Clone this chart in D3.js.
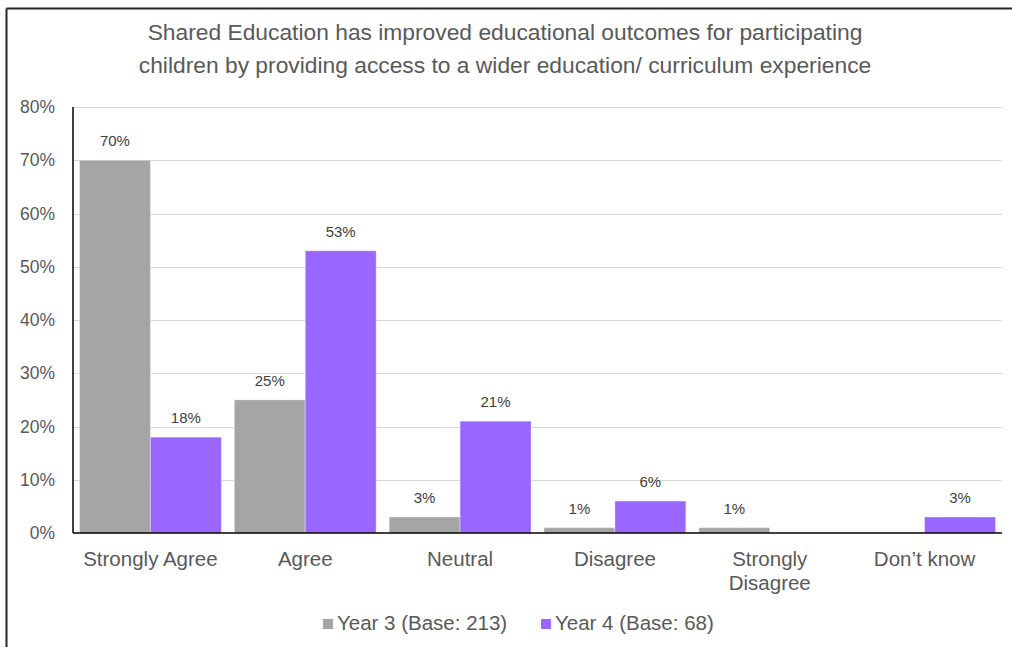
<!DOCTYPE html>
<html>
<head>
<meta charset="utf-8">
<script src="https://cdn.jsdelivr.net/npm/d3@7"></script>
<style>
  html, body { margin: 0; padding: 0; background: #fff; }
  svg { display: block; }
  text { font-family: "Liberation Sans", Arial, sans-serif; }
</style>
</head>
<body>
<svg id="chart" width="1012" height="647"></svg>
<script>
// Survey responses, share of respondents per answer
const categories = ["Strongly Agree", "Agree", "Neutral", "Disagree", "Strongly Disagree", "Don’t know"];
const year3 = [0.70, 0.25, 0.03, 0.01, 0.01, null];
const year4 = [0.18, 0.53, 0.21, 0.06, null, 0.03];
const seriesNames = ["Year 3 (Base: 213)", "Year 4 (Base: 68)"];
const seriesColors = ["#A5A5A5", "#9966FF"];
const yTicks = [0, 0.1, 0.2, 0.3, 0.4, 0.5, 0.6, 0.7, 0.8];
const titleLines = [
  "Shared Education has improved educational outcomes for participating",
  "children by providing access to a wider education/ curriculum experience"
];

const svg = d3.select("#chart");
const W = 1012, H = 647;
const plot = { left: 73, right: 1002, top: 107, bottom: 533 };

// outer frame (top and left edges visible)
svg.append("line").attr("x1", 6.5).attr("x2", W).attr("y1", 8.5).attr("y2", 8.5)
  .attr("stroke", "#262626").attr("stroke-width", 2);
svg.append("line").attr("x1", 6.5).attr("x2", 6.5).attr("y1", 8.5).attr("y2", H)
  .attr("stroke", "#262626").attr("stroke-width", 2);

// title
svg.append("g").selectAll("text").data(titleLines).join("text")
  .attr("x", 505).attr("y", (d, i) => 40 + i * 33)
  .attr("text-anchor", "middle")
  .attr("font-size", 22.8).attr("fill", "#595959")
  .text(d => d);

const x = d3.scaleBand().domain(categories).range([plot.left, plot.right]).padding(0);
const y = d3.scaleLinear().domain([0, 0.8]).range([plot.bottom, plot.top]);
const groupGap = 13;
const barW = (x.bandwidth() - groupGap) / 2;

// gridlines
svg.append("g").selectAll("line").data(yTicks.filter(t => t > 0)).join("line")
  .attr("x1", plot.left).attr("x2", plot.right)
  .attr("y1", d => Math.round(y(d)) + 0.5).attr("y2", d => Math.round(y(d)) + 0.5)
  .attr("stroke", "#D9D9D9").attr("stroke-width", 1.2);

// y axis labels
const yAxis = d3.axisLeft(y).tickValues(yTicks).tickFormat(d3.format(".0%")).tickSize(0).tickPadding(18);
const yg = svg.append("g").attr("transform", `translate(${plot.left},0)`).call(yAxis);
yg.select(".domain").remove();
yg.selectAll("text").attr("font-size", 17.5).attr("fill", "#595959")
  .attr("font-family", "'Liberation Sans', Arial, sans-serif");

// bars
const series = [year3, year4];
series.forEach((vals, si) => {
  const g = svg.append("g");
  const rows = categories.map((c, i) => ({ c, v: vals[i] })).filter(d => d.v != null);
  g.selectAll("rect").data(rows).join("rect")
    .attr("x", d => x(d.c) + groupGap / 2 + si * barW)
    .attr("y", d => y(d.v))
    .attr("width", barW)
    .attr("height", d => plot.bottom - y(d.v))
    .attr("fill", seriesColors[si])
    .attr("stroke", "#ffffff").attr("stroke-opacity", 0.35).attr("stroke-width", 1);
  g.selectAll("text").data(rows).join("text")
    .attr("x", d => x(d.c) + groupGap / 2 + si * barW + barW / 2)
    .attr("y", d => y(d.v) - 14)
    .attr("text-anchor", "middle")
    .attr("font-size", 15).attr("fill", "#404040")
    .text(d => d3.format(".0%")(d.v));
});

// axis lines
svg.append("line").attr("x1", plot.left).attr("x2", plot.right)
  .attr("y1", plot.bottom).attr("y2", plot.bottom)
  .attr("stroke", "#000").attr("stroke-width", 1.5);
svg.append("line").attr("x1", plot.left).attr("x2", plot.left)
  .attr("y1", plot.top).attr("y2", plot.bottom)
  .attr("stroke", "#000").attr("stroke-width", 1.5);

// category labels (wrap two-word labels that do not fit)
const catG = svg.append("g");
categories.forEach(c => {
  const lines = c === "Strongly Disagree" ? ["Strongly", "Disagree"] : [c];
  const t = catG.append("text")
    .attr("x", x(c) + x.bandwidth() / 2)
    .attr("y", 566)
    .attr("text-anchor", "middle")
    .attr("font-size", 20.5).attr("fill", "#595959");
  lines.forEach((l, i) => {
    t.append("tspan").attr("x", x(c) + x.bandwidth() / 2).attr("dy", i === 0 ? 0 : 23.5).text(l);
  });
});

// legend
const legendItems = [
  { name: seriesNames[0], color: seriesColors[0], x: 323 },
  { name: seriesNames[1], color: seriesColors[1], x: 541 }
];
const lg = svg.append("g");
legendItems.forEach(d => {
  lg.append("rect").attr("x", d.x).attr("y", 619).attr("width", 10).attr("height", 10).attr("fill", d.color);
  lg.append("text").attr("x", d.x + 14).attr("y", 629.5)
    .attr("font-size", 20.5).attr("fill", "#595959").text(d.name);
});
</script>
</body>
</html>
